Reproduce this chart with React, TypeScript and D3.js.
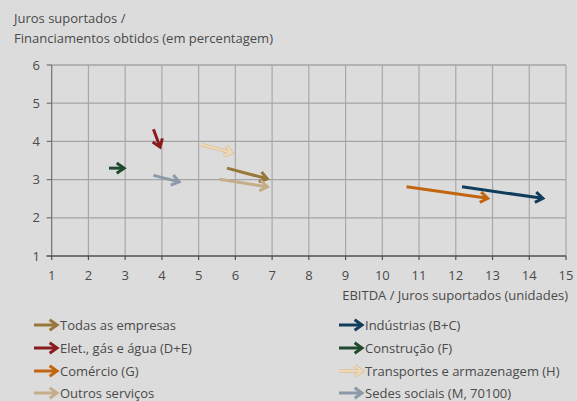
import * as d3 from "d3";

const sectors = [
  "Todas as empresas",
  "Elet., gás e água (D+E)",
  "Comércio (G)",
  "Outros serviços",
  "Indústrias (B+C)",
  "Construção (F)",
  "Transportes e armazenagem (H)",
  "Sedes sociais (M, 70100)",
];
// start and end of each arrow (EBITDA/juros, juros/financiamentos)
const xStart = [5.77, 3.77, 10.66, 5.57, 12.17, 2.56, 5.07, 3.77];
const yStart = [3.3, 4.32, 2.81, 3.01, 2.81, 3.3, 3.92, 3.11];
const xEnd = [6.87, 3.95, 12.87, 6.87, 14.37, 2.97, 5.9, 4.47];
const yEnd = [3.02, 3.85, 2.51, 2.81, 2.51, 3.3, 3.7, 2.94];
const colors = ["#98783a", "#8a1c20", "#c2650f", "#c6ad8a", "#103d5c", "#1f4a2e", "#e8d1a6", "#8c99a8"];

const xTicks = d3.range(1, 16);
const yTicks = d3.range(1, 7);

const W = 577;
const H = 401;
const font = "'Open Sans', sans-serif";
const textColor = "#4a4a4a";

function arrowPaths(ax: number, ay: number, bx: number, by: number, head = 9) {
  const ang = Math.atan2(by - ay, bx - ax);
  const a = (35 * Math.PI) / 180;
  const p1 = [bx - head * Math.cos(ang - a), by - head * Math.sin(ang - a)];
  const p2 = [bx - head * Math.cos(ang + a), by - head * Math.sin(ang + a)];
  const lx = bx - 2 * Math.cos(ang);
  const ly = by - 2 * Math.sin(ang);
  const line = d3.path();
  line.moveTo(ax, ay);
  line.lineTo(lx, ly);
  const hd = d3.path();
  hd.moveTo(p1[0], p1[1]);
  hd.lineTo(bx, by);
  hd.lineTo(p2[0], p2[1]);
  return { line: line.toString(), head: hd.toString() };
}

function Arrow({ ax, ay, bx, by, i }: { ax: number; ay: number; bx: number; by: number; i: number }) {
  const p = arrowPaths(ax, ay, bx, by);
  const outlined = i === 6;
  return (
    <g fill="none" strokeLinejoin="miter">
      {outlined && (
        <>
          <path d={p.line} stroke="#dcc29a" strokeWidth={3.6} />
          <path d={p.head} stroke="#dcc29a" strokeWidth={3.6} />
        </>
      )}
      <path d={p.line} stroke={outlined ? "#efdcbc" : colors[i]} strokeWidth={outlined ? 1.8 : 3} />
      <path d={p.head} stroke={outlined ? "#efdcbc" : colors[i]} strokeWidth={outlined ? 1.8 : 3} />
    </g>
  );
}

export default function App() {
  const x = d3.scaleLinear().domain([1, 15]).range([51.7, 566]);
  const y = d3.scaleLinear().domain([1, 6]).range([256, 65]);

  const legendRows = [325, 348, 371, 393];
  const legendCols = [34, 339];

  return (
    <svg
      width={W}
      height={H}
      style={{ position: "absolute", left: 0, top: 0, display: "block" }}
      fontFamily={font}
    >
      <rect width={W} height={H} fill="#dcdcdc" />

      <text x={14} y={23} fontSize={13} fill={textColor}>
        Juros suportados /
      </text>
      <text x={14} y={43} fontSize={13} fill={textColor}>
        Financiamentos obtidos (em percentagem)
      </text>

      {/* grid */}
      {xTicks.slice(1).map((t) => (
        <line key={"vx" + t} x1={x(t)} x2={x(t)} y1={y(6)} y2={y(1)} stroke="#a8a8a8" strokeWidth={1.2} />
      ))}
      {yTicks.slice(1).map((t) => (
        <line key={"hy" + t} x1={x(1)} x2={x(15)} y1={y(t)} y2={y(t)} stroke="#a4a4a4" strokeWidth={1.3} />
      ))}

      {/* axes */}
      <line x1={x(1)} x2={x(1)} y1={y(6)} y2={y(1)} stroke="#707070" strokeWidth={1.2} />
      <line x1={x(1) - 5} x2={x(15)} y1={y(1)} y2={y(1)} stroke="#505050" strokeWidth={1.3} />
      {yTicks.map((t) => (
        <g key={"yt" + t}>
          <line x1={x(1) - 5} x2={x(1)} y1={y(t)} y2={y(t)} stroke="#707070" strokeWidth={1.2} />
          <text x={40} y={y(t)} dy="0.35em" textAnchor="end" fontSize={13} fill={textColor}>
            {t}
          </text>
        </g>
      ))}
      {xTicks.map((t) => (
        <g key={"xt" + t}>
          <line x1={x(t)} x2={x(t)} y1={y(1)} y2={y(1) + 4} stroke="#505050" strokeWidth={1.2} />
          <text x={x(t)} y={280} textAnchor="middle" fontSize={13} fill={textColor}>
            {t}
          </text>
        </g>
      ))}
      <text x={568} y={300} textAnchor="end" fontSize={13} fill={textColor}>
        EBITDA / Juros suportados (unidades)
      </text>

      {/* arrows */}
      {sectors.map((s, i) => (
        <Arrow key={s} i={i} ax={x(xStart[i])} ay={y(yStart[i])} bx={x(xEnd[i])} by={y(yEnd[i])} />
      ))}

      {/* legend */}
      {sectors.map((s, i) => {
        const col = Math.floor(i / 4);
        const row = i % 4;
        const lx = legendCols[col];
        const ly = legendRows[row];
        return (
          <g key={"lg" + s}>
            <Arrow i={i} ax={lx} ay={ly} bx={lx + 23} by={ly} />
            <text x={lx + 26} y={ly} dy="0.35em" fontSize={13} fill={textColor}>
              {s}
            </text>
          </g>
        );
      })}
    </svg>
  );
}
